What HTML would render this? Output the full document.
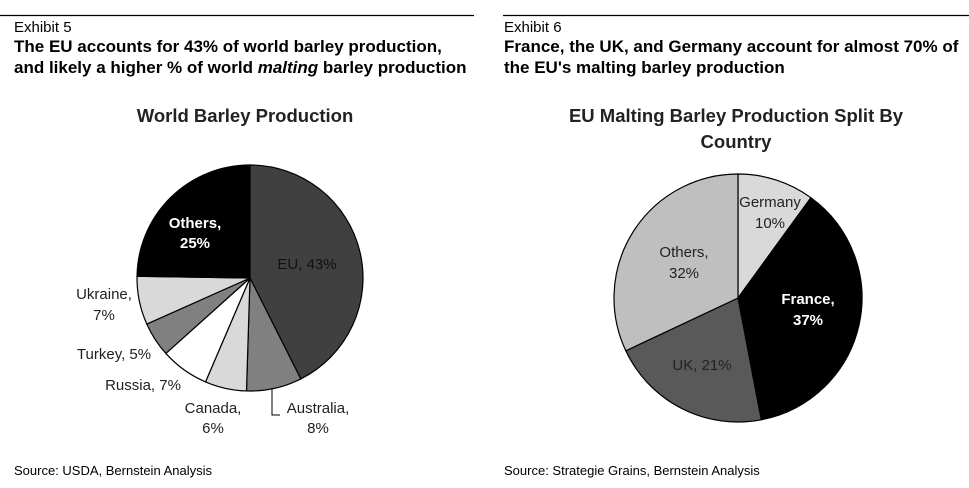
<!DOCTYPE html>
<html><head><meta charset="utf-8"><style>
body{margin:0;background:#fff;width:969px;height:488px;overflow:hidden;font-family:"Liberation Sans",Arial,sans-serif}
svg{position:absolute;left:0;top:0}
</style></head><body>
<svg width="969" height="488">
<line x1="0" y1="15.5" x2="474" y2="15.5" stroke="#000" stroke-width="1.2"/>
<line x1="503" y1="15.5" x2="969" y2="15.5" stroke="#000" stroke-width="1.2"/>
<text x="14" y="32" font-size="15">Exhibit 5</text>
<text x="14" y="52" font-size="17" font-weight="bold">The EU accounts for 43% of world barley production,</text>
<text x="14" y="73" font-size="17" font-weight="bold">and likely a higher % of world <tspan font-style="italic">malting</tspan> barley production</text>
<text x="504" y="32" font-size="15">Exhibit 6</text>
<text x="504" y="52" font-size="17" font-weight="bold">France, the UK, and Germany account for almost 70% of</text>
<text x="504" y="73" font-size="17" font-weight="bold">the EU's malting barley production</text>
<text x="245" y="122" font-size="18.5" font-weight="bold" text-anchor="middle" fill="#222">World Barley Production</text>
<text x="736" y="122" font-size="18.5" font-weight="bold" text-anchor="middle" fill="#222">EU Malting Barley Production Split By</text>
<text x="736" y="148" font-size="18.5" font-weight="bold" text-anchor="middle" fill="#222">Country</text>
<g id="p1"></g><g id="p2"></g>
<polyline points="272,388 272,415 280,415" fill="none" stroke="#000"/>
<text x="14" y="475" font-size="13">Source: USDA, Bernstein Analysis</text>
<text x="504" y="475" font-size="13">Source: Strategie Grains, Bernstein Analysis</text>
<g font-size="15" fill="#222">
<text x="307" y="269" text-anchor="middle" fill="#111">EU, 43%</text>
<text x="318" y="413" text-anchor="middle">Australia,</text>
<text x="318" y="433" text-anchor="middle">8%</text>
<text x="213" y="413" text-anchor="middle">Canada,</text>
<text x="213" y="433" text-anchor="middle">6%</text>
<text x="143" y="390" text-anchor="middle">Russia, 7%</text>
<text x="114" y="359" text-anchor="middle">Turkey, 5%</text>
<text x="104" y="299" text-anchor="middle">Ukraine,</text>
<text x="104" y="320" text-anchor="middle">7%</text>
<text x="195" y="228" text-anchor="middle" fill="#fff" font-weight="bold">Others,</text>
<text x="195" y="248" text-anchor="middle" fill="#fff" font-weight="bold">25%</text>
<text x="770" y="207" text-anchor="middle">Germany</text>
<text x="770" y="228" text-anchor="middle">10%</text>
<text x="808" y="304" text-anchor="middle" fill="#fff" font-weight="bold">France,</text>
<text x="808" y="325" text-anchor="middle" fill="#fff" font-weight="bold">37%</text>
<text x="702" y="370" text-anchor="middle">UK, 21%</text>
<text x="684" y="257" text-anchor="middle">Others,</text>
<text x="684" y="278" text-anchor="middle">32%</text>
</g>
</svg>
<script>
const worldCats=["EU","Australia","Canada","Russia","Turkey","Ukraine","Others"];
const worldVals=[43,8,6,7,5,7,25];
const worldColors=["#404040","#808080","#d9d9d9","#ffffff","#808080","#d9d9d9","#000000"];
const euCats=["Germany","France","UK","Others"];
const euVals=[10,37,21,32];
const euColors=["#d9d9d9","#000000","#595959","#bfbfbf"];
const NS="http://www.w3.org/2000/svg";
function pie(gid,cats,vals,cols,cx,cy,r){
  const g=document.getElementById(gid);
  const tot=vals.reduce((a,b)=>a+b,0);
  let a0=0;
  vals.forEach((v,i)=>{
    const a1=a0+v/tot*2*Math.PI;
    const x0=cx+r*Math.sin(a0),y0=cy-r*Math.cos(a0);
    const x1=cx+r*Math.sin(a1),y1=cy-r*Math.cos(a1);
    const p=document.createElementNS(NS,"path");
    p.setAttribute("d",`M${cx},${cy}L${x0},${y0}A${r},${r} 0 ${a1-a0>Math.PI?1:0} 1 ${x1},${y1}Z`);
    p.setAttribute("fill",cols[i]);
    p.setAttribute("stroke","#000");
    p.setAttribute("stroke-width","1.2");
    
    
    g.appendChild(p);
    a0=a1;
  });
}
pie("p1",worldCats,worldVals,worldColors,250,278,113);
pie("p2",euCats,euVals,euColors,738,298,124);
</script>
</body></html>
